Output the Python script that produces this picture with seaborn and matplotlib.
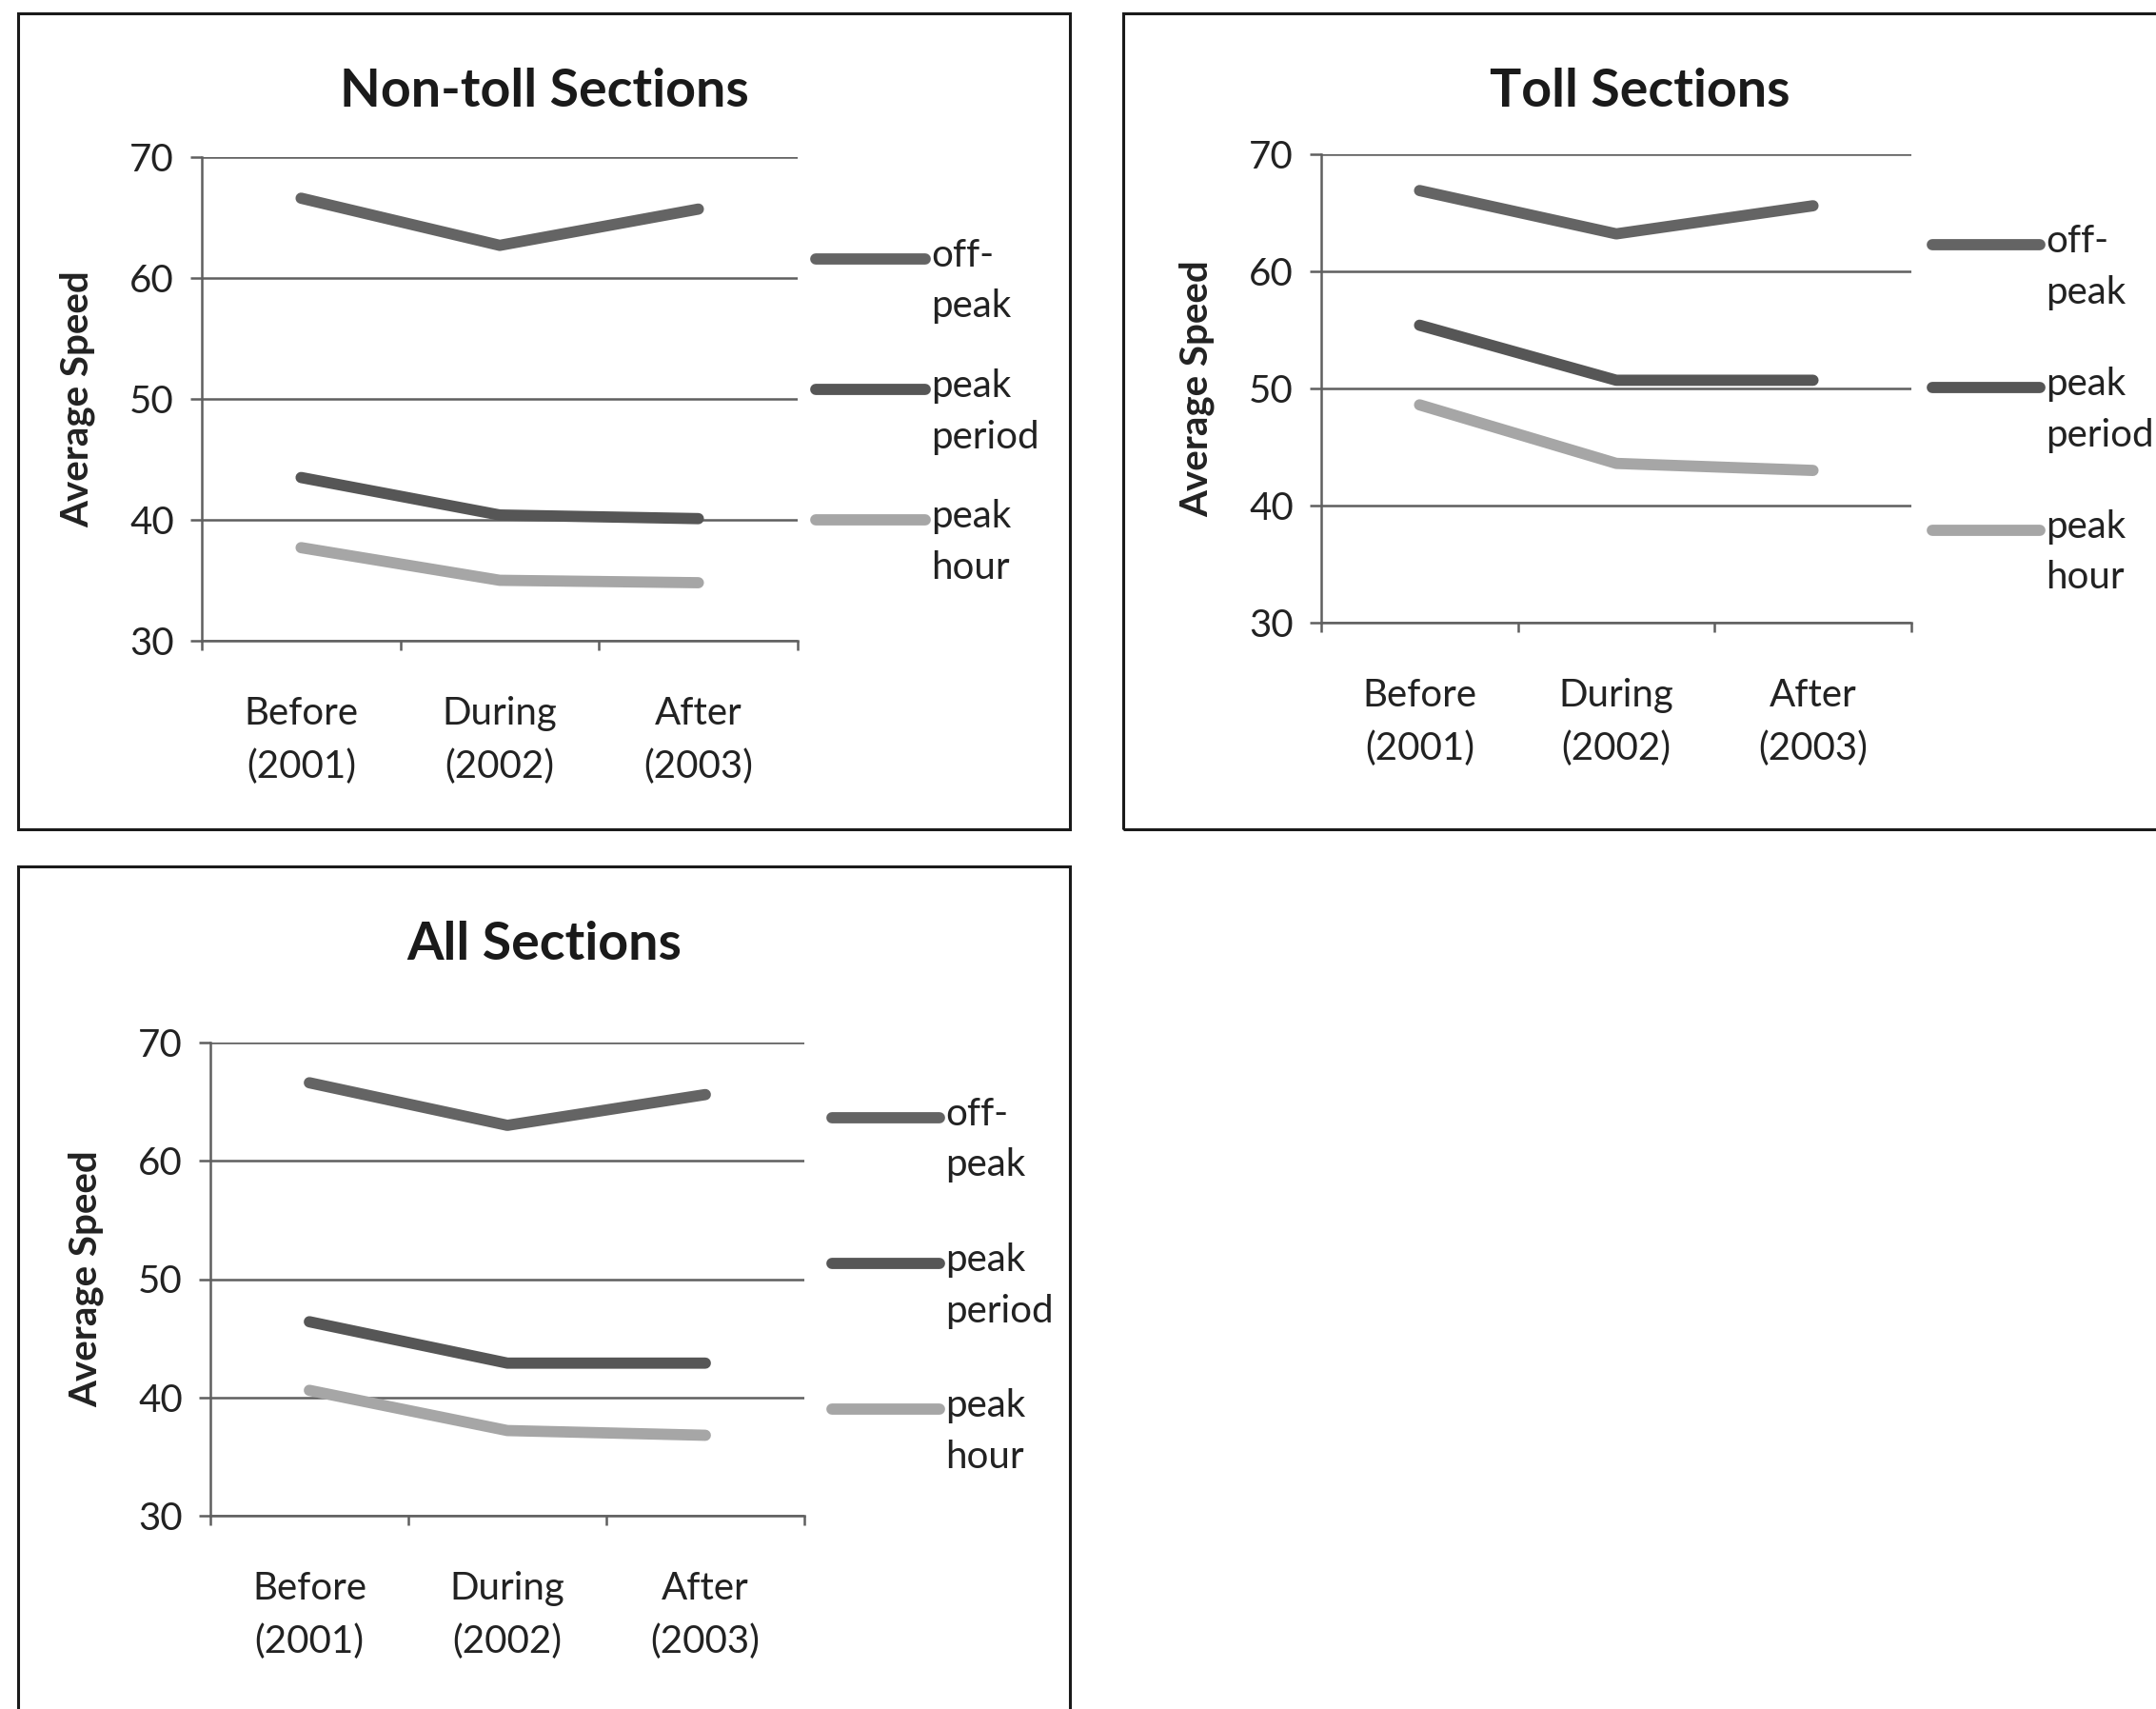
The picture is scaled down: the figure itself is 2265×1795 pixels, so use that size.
import matplotlib
matplotlib.use('Agg')
import matplotlib.pyplot as plt
import seaborn as sns
import pandas as pd
from matplotlib.patches import Rectangle
from matplotlib.lines import Line2D

# data
periods = ['Before\n(2001)', 'During\n(2002)', 'After\n(2003)']
series = ['off-peak', 'peak period', 'peak hour']
series_labels = ['off-\npeak', 'peak\nperiod', 'peak\nhour']

nontoll_offpeak = [66.6, 62.7, 65.7]
nontoll_peak_period = [43.5, 40.4, 40.1]
nontoll_peak_hour = [37.7, 35.0, 34.8]

toll_offpeak = [66.9, 63.2, 65.6]
toll_peak_period = [55.4, 50.7, 50.7]
toll_peak_hour = [48.6, 43.6, 43.0]

all_offpeak = [66.6, 63.0, 65.6]
all_peak_period = [46.4, 42.9, 42.9]
all_peak_hour = [40.6, 37.2, 36.8]

colors = {'off-peak': '#646464', 'peak period': '#565656', 'peak hour': '#a6a6a6'}

sns.set_style('white')
plt.rcParams['font.family'] = ['Lato', 'DejaVu Sans']
plt.rcParams['xtick.bottom'] = True
plt.rcParams['ytick.left'] = True

W, H = 2265, 1795
fig = plt.figure(figsize=(W / 100, H / 100), dpi=100)


def px(x, y):
    return x / W, 1 - y / H


def make_df(offpeak, peak_period, peak_hour):
    rows = []
    for name, vals in zip(series, [offpeak, peak_period, peak_hour]):
        for i, v in enumerate(vals):
            rows.append({'period': i, 'series': name, 'speed': v})
    return pd.DataFrame(rows)


# panel settings: title, frame box, axes box (pixels), legend anchor
panels = [
    ('Non-toll Sections', make_df(nontoll_offpeak, nontoll_peak_period, nontoll_peak_hour),
     (19, 14, 1124, 871), (212, 165, 838, 673), (857, 972, 272, 137)),
    ('Toll Sections', make_df(toll_offpeak, toll_peak_period, toll_peak_hour),
     (1180, 14, 2290, 871), (1388, 162, 2008, 654), (2030, 2143, 257, 150)),
    ('All Sections', make_df(all_offpeak, all_peak_period, all_peak_hour),
     (19, 910, 1124, 1820), (221, 1095, 845, 1592), (874, 987, 1174, 153)),
]

for title, df, frame, box, key in panels:
    # black frame around each chart
    fx0, fy0 = px(frame[0], frame[3])
    fx1, fy1 = px(frame[2], frame[1])
    fig.add_artist(Rectangle((fx0, fy0), fx1 - fx0, fy1 - fy0, transform=fig.transFigure,
                             fill=False, edgecolor='#1a1a1a', linewidth=2.2, clip_on=False))

    ax0, ay0 = px(box[0], box[3])
    ax1, ay1 = px(box[2], box[1])
    ax = fig.add_axes([ax0, ay0, ax1 - ax0, ay1 - ay0])

    sns.lineplot(data=df, x='period', y='speed', hue='series', palette=colors,
                 linewidth=8.5, legend=False, ax=ax, zorder=3)

    ax.set_xlim(-0.5, 2.5)
    ax.set_ylim(30, 70)
    ax.set_yticks([30, 40, 50, 60, 70])
    ax.grid(axis='y', color='#5f5f5f', linewidth=1.8, zorder=1)
    ax.set_xticks([0, 1, 2])
    ax.set_xticklabels(periods, fontsize=29, color='#222222', linespacing=1.6)
    ax.set_xticks([-0.5, 0.5, 1.5, 2.5], minor=True)
    ax.tick_params(axis='x', which='major', length=0, pad=42)
    ax.tick_params(axis='x', which='minor', direction='out', length=7, width=1.8,
                   color='#5f5f5f', bottom=True)
    ax.tick_params(axis='y', direction='out', length=9, width=1.8, color='#5f5f5f',
                   labelsize=29, labelcolor='#222222', pad=12, left=True)
    for s in ['top', 'right']:
        ax.spines[s].set_visible(False)
    for s in ['left', 'bottom']:
        ax.spines[s].set_color('#5f5f5f')
        ax.spines[s].set_linewidth(1.8)
    ax.set_xlabel('')
    ax.set_ylabel('Average Speed', fontsize=29, fontweight='bold', color='#222222', labelpad=26)

    # title centred over the frame
    tx = (frame[0] + frame[2]) / 2 if frame[2] < W else (frame[0] + 2265) / 2
    fig.text(*px(tx, frame[1] + 82), title, fontsize=40, fontweight='bold',
             ha='center', va='center', color='#1a1a1a')

    # legend drawn as in the reference: key line beside first text line
    hx0, hx1, hy, step = key
    for i, (name, lab) in enumerate(zip(series, series_labels)):
        y = hy + i * step
        x0, yy = px(hx0, y)
        x1, _ = px(hx1, y)
        fig.add_artist(Line2D([x0, x1], [yy, yy], transform=fig.transFigure,
                              color=colors[name], linewidth=8.5, solid_capstyle='round'))
        fig.text(*px(hx1 + 6, y - 22), lab, fontsize=29, color='#222222',
                 ha='left', va='top', linespacing=1.55)

fig.savefig('out.png', dpi=100, facecolor='white')
